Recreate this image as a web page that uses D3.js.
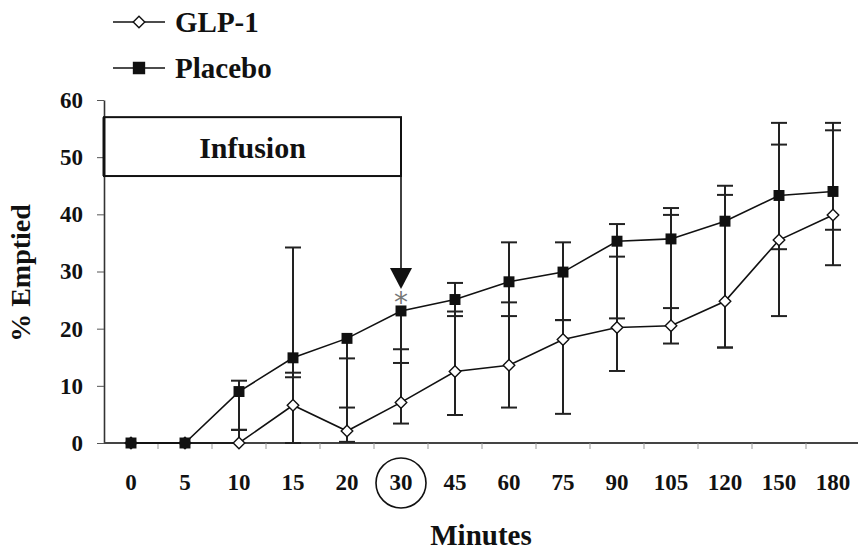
<!DOCTYPE html>
<html>
<head>
<meta charset="utf-8">
<script src="https://cdn.jsdelivr.net/npm/d3@7"></script>
<style>
  body { margin: 0; background: #fff; }
  svg { display: block; }
  text { font-family: 'Liberation Serif', 'Times New Roman', serif; font-weight: bold; fill: #111; }
</style>
</head>
<body>
<svg id="chart" width="858" height="552"></svg>
<script>
// minutes after start, shown as equal-spaced categories
const categories = ['0', '5', '10', '15', '20', '30', '45', '60', '75', '90', '105', '120', '150', '180'];
const yTicks = [0, 10, 20, 30, 40, 50, 60];

// % emptied
const glp1 = [0, 0, 0, 6.6, 2.1, 7.1, 12.5, 13.6, 18.1, 20.2, 20.5, 24.8, 35.5, 39.9];
const placebo = [0, 0, 9.0, 14.9, 18.3, 23.1, 25.1, 28.2, 29.9, 35.3, 35.7, 38.8, 43.3, 44.0];

// error bar ends (a bound equal to the mean draws no cap)
const glp1Hi = [0, 0, 2.3, 12.3, 14.8, 16.4, 23.0, 24.6, 21.5, 32.6, 39.9, 43.4, 52.2, 54.7];
const glp1Lo = [0, 0, 0, 0, 0.2, 3.4, 4.9, 6.2, 5.1, 12.6, 17.4, 16.7, 22.2, 31.1];
const placeboHi = [0, 0, 10.9, 34.2, 18.3, 23.1, 28.0, 35.1, 35.1, 38.3, 41.1, 45.0, 56.0, 56.0];
const placeboLo = [0, 0, 2.3, 11.5, 6.2, 14.0, 22.2, 22.2, 21.5, 21.8, 23.6, 16.7, 33.9, 37.3];

// infusion runs from start to the 30 min point
const infusionEnd = '30';

const svg = d3.select('#chart');

const x = d3.scaleBand().domain(categories).range([104, 860]);
const y = d3.scaleLinear().domain([0, 60]).range([443, 100]);
const cx = c => x(c) + x.bandwidth() / 2;

// y axis
const yAxis = svg.append('g')
  .attr('transform', 'translate(104,0)')
  .call(d3.axisLeft(y).tickValues(yTicks).tickSize(7).tickPadding(14).tickSizeOuter(0));
yAxis.select('.domain').attr('stroke', '#333').attr('stroke-width', 1.6);
yAxis.selectAll('.tick line').attr('stroke', '#555');
yAxis.selectAll('text').style('font-size', '23px').attr('font-family', null);

// x axis: labels under the points, ticks between categories
const xAxis = svg.append('g')
  .attr('transform', 'translate(0,443)')
  .call(d3.axisBottom(x).tickSize(0).tickSizeOuter(0));
xAxis.select('.domain').remove();
xAxis.selectAll('text')
  .attr('y', 47).attr('dy', 0)
  .attr('font-family', null)
  .style('font-size', '23px');

svg.append('line')
  .attr('x1', 104).attr('x2', 858)
  .attr('y1', y(0)).attr('y2', y(0))
  .attr('stroke', '#444').attr('stroke-width', 2.2);

svg.append('g').selectAll('line')
  .data(categories.slice(1))
  .join('line')
  .attr('x1', d => x(d)).attr('x2', d => x(d))
  .attr('y1', y(0)).attr('y2', y(0) + 6)
  .attr('stroke', '#999').attr('stroke-width', 1);

// circle around the end-of-infusion label
svg.append('circle')
  .attr('cx', cx(infusionEnd)).attr('cy', 483)
  .attr('r', 25)
  .attr('fill', 'none').attr('stroke', '#111').attr('stroke-width', 1.6);

// infusion box and arrow
svg.append('rect')
  .attr('x', 104).attr('y', y(57))
  .attr('width', cx(infusionEnd) - 104).attr('height', y(46.7) - y(57))
  .attr('fill', '#fff').attr('stroke', '#111').attr('stroke-width', 2);
svg.append('line')
  .attr('x1', 104).attr('x2', 104).attr('y1', y(57)).attr('y2', y(46.7))
  .attr('stroke', '#111').attr('stroke-width', 3);
svg.append('text')
  .attr('x', (104 + cx(infusionEnd)) / 2).attr('y', 158)
  .attr('text-anchor', 'middle')
  .style('font-size', '30px')
  .text('Infusion');
svg.append('line')
  .attr('x1', cx(infusionEnd)).attr('x2', cx(infusionEnd))
  .attr('y1', y(46.7)).attr('y2', 272)
  .attr('stroke', '#111').attr('stroke-width', 1.6);
svg.append('path')
  .attr('d', d3.line()([[cx(infusionEnd) - 11, 268], [cx(infusionEnd) + 11, 268], [cx(infusionEnd), 289]]) + 'Z')
  .attr('fill', '#111');
svg.append('text')
  .attr('x', cx(infusionEnd)).attr('y', 312)
  .attr('text-anchor', 'middle')
  .style('font-size', '28px').style('font-weight', 'normal').style('fill', '#777')
  .attr('font-family', 'DejaVu Sans')
  .style('font-family', 'DejaVu Sans')
  .text('*');

// error bars
const series = [
  { name: 'GLP-1', values: glp1, hi: glp1Hi, lo: glp1Lo },
  { name: 'Placebo', values: placebo, hi: placeboHi, lo: placeboLo }
];

const bars = svg.append('g').attr('stroke', '#222').attr('stroke-width', 2);
series.forEach(s => {
  categories.forEach((c, i) => {
    if (s.hi[i] !== s.lo[i]) {
      bars.append('line')
        .attr('x1', cx(c)).attr('x2', cx(c))
        .attr('y1', y(s.hi[i])).attr('y2', y(s.lo[i]));
    }
    [s.hi[i], s.lo[i]].forEach(v => {
      if (v !== s.values[i]) {
        bars.append('line')
          .attr('x1', cx(c) - 8).attr('x2', cx(c) + 8)
          .attr('y1', y(v)).attr('y2', y(v));
      }
    });
  });
});

// lines and markers
const line = d3.line().x((d, i) => cx(categories[i])).y(d => y(d));
const diamond = d3.symbol().type(d3.symbolDiamond2).size(85);
const square = d3.symbol().type(d3.symbolSquare).size(120);

svg.append('path').datum(glp1)
  .attr('d', line).attr('fill', 'none').attr('stroke', '#111').attr('stroke-width', 1.6);
svg.append('g').selectAll('path')
  .data(glp1)
  .join('path')
  .attr('transform', (d, i) => `translate(${cx(categories[i])},${y(d)})`)
  .attr('d', diamond)
  .attr('fill', '#fff').attr('stroke', '#111').attr('stroke-width', 1.4);

svg.append('path').datum(placebo)
  .attr('d', line).attr('fill', 'none').attr('stroke', '#111').attr('stroke-width', 1.6);
svg.append('g').selectAll('path')
  .data(placebo)
  .join('path')
  .attr('transform', (d, i) => `translate(${cx(categories[i])},${y(d)})`)
  .attr('d', square)
  .attr('fill', '#111');

// legend
const legend = svg.append('g');
[{ name: 'GLP-1', sym: diamond, fill: '#fff', ly: 22, ty: 32 },
 { name: 'Placebo', sym: square, fill: '#111', ly: 68, ty: 78 }].forEach(d => {
  legend.append('line')
    .attr('x1', 113).attr('x2', 165).attr('y1', d.ly).attr('y2', d.ly)
    .attr('stroke', '#111').attr('stroke-width', 1.6);
  legend.append('path')
    .attr('transform', `translate(139,${d.ly})`)
    .attr('d', d.sym)
    .attr('fill', d.fill).attr('stroke', '#111').attr('stroke-width', 1.4);
  legend.append('text')
    .attr('x', 175).attr('y', d.ty)
    .style('font-size', '29px')
    .text(d.name);
});

// axis titles
svg.append('text')
  .attr('x', 481).attr('y', 545)
  .attr('text-anchor', 'middle')
  .style('font-size', '29px')
  .text('Minutes');
svg.append('text')
  .attr('transform', 'translate(30,273) rotate(-90)')
  .attr('text-anchor', 'middle')
  .style('font-size', '28px')
  .text('% Emptied');
</script>
</body>
</html>
